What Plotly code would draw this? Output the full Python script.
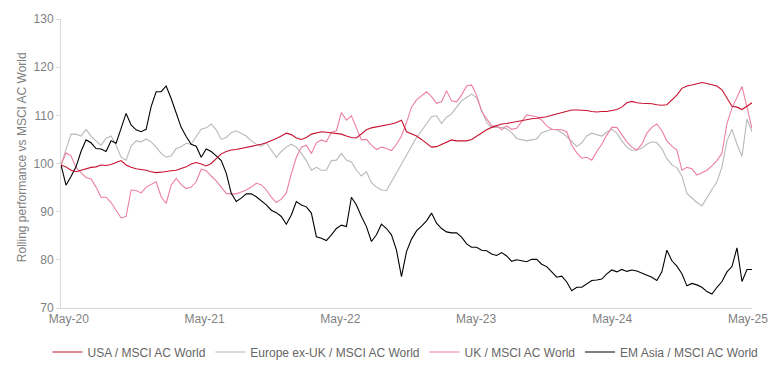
import pandas as pd
import plotly.graph_objects as go

# Sample dates (roughly fortnightly) spanning the chart
dates = pd.date_range("2020-05-08", "2025-06-09", periods=139)

usa = [99.7, 99.3, 98.6, 98.3, 98.6, 98.9, 99.2, 99.3, 99.7, 99.6,
       99.8, 100.2, 100.6, 99.7, 99.2, 98.9, 98.8, 98.6, 98.3, 98.1,
       98.2, 98.4, 98.5, 98.6, 98.9, 99.3, 99.9, 100.2, 99.9, 99.5,
       100.0, 101.1, 102.0, 102.5, 102.8, 102.9, 103.1, 103.3, 103.5, 103.8,
       104.0, 104.3, 104.7, 105.2, 105.7, 106.3, 106.0, 105.3, 105.0, 105.4,
       106.1, 106.4, 106.6, 106.5, 106.4, 106.3, 106.1, 105.7, 105.4, 105.3,
       106.1, 107.0, 107.4, 107.6, 107.8, 107.9, 108.2, 108.5, 109.0, 106.6,
       106.1, 105.7, 105.0, 104.2, 103.4, 103.5, 104.0, 104.5, 104.9, 104.7,
       104.7, 104.7, 105.0, 105.7, 106.4, 107.0, 107.5, 107.8, 108.2, 108.3,
       108.5, 108.7, 109.0, 109.2, 109.3, 109.4, 109.5, 109.7, 110.0, 110.3,
       110.6, 110.8, 111.1, 111.1, 111.1, 111.0, 110.8, 110.7, 110.8, 110.8,
       111.0, 111.2, 111.7, 112.6, 112.9, 112.6, 112.5, 112.5, 112.4, 112.2,
       112.1, 112.2, 113.1, 114.2, 115.6, 116.1, 116.3, 116.5, 116.8, 116.6,
       116.3, 116.1, 115.3, 113.5, 111.9, 111.7, 111.2, 111.9, 112.6]

europe = [99.7, 103.1, 106.1, 106.1, 105.7, 107.1, 105.7, 104.7, 103.8, 105.2,
          105.7, 103.8, 101.3, 100.7, 103.6, 104.7, 104.5, 105.1, 104.5, 103.4,
          102.1, 101.3, 101.6, 103.1, 103.5, 104.2, 104.0, 105.6, 107.1, 107.4,
          108.2, 107.0, 105.0, 105.4, 106.4, 106.8, 106.3, 105.7, 104.7, 104.0,
          103.6, 104.3, 102.8, 101.3, 102.5, 103.4, 104.0, 103.4, 102.1, 100.6,
          98.6, 99.2, 98.6, 98.6, 100.6, 100.7, 102.1, 100.7, 100.3, 98.6,
          97.4, 98.3, 96.0, 95.1, 94.5, 94.4, 96.2, 98.1, 99.9, 101.8,
          103.8, 105.4, 106.8, 108.2, 109.7, 109.9, 108.3, 109.6, 110.3, 111.7,
          113.0, 113.7, 114.4, 113.7, 111.2, 108.5, 107.5, 107.5, 107.5, 107.2,
          106.4, 105.2, 105.0, 104.7, 104.9, 105.1, 106.4, 106.7, 107.1, 107.0,
          106.4, 105.6, 104.5, 103.5, 104.3, 105.7, 106.3, 106.0, 105.7, 106.5,
          107.1, 106.3, 104.7, 103.4, 102.7, 102.8, 103.2, 104.0, 104.5, 104.3,
          103.1, 101.0, 99.7, 99.1, 97.4, 93.8, 92.8, 91.9, 91.2, 93.0,
          94.6, 96.2, 99.3, 104.7, 107.1, 104.0, 101.5, 109.2, 106.6]

uk = [99.7, 102.2, 101.6, 99.2, 98.1, 97.1, 96.8, 95.1, 93.0, 93.0,
      91.9, 90.3, 88.7, 89.0, 94.5, 94.4, 93.9, 95.1, 95.7, 96.2,
      93.1, 91.7, 95.5, 96.9, 95.6, 94.8, 95.1, 96.2, 98.8, 98.5,
      97.4, 96.4, 95.1, 93.8, 93.7, 93.7, 94.1, 94.5, 95.1, 95.9,
      95.6, 94.5, 93.0, 91.9, 92.6, 93.9, 97.9, 101.3, 103.4, 103.8,
      102.1, 104.3, 104.9, 104.5, 106.5, 106.8, 110.6, 109.0, 109.9, 107.3,
      104.9, 105.0, 103.8, 102.9, 103.4, 103.1, 102.7, 104.0, 105.7, 108.5,
      111.7, 113.2, 114.0, 114.9, 113.9, 112.5, 112.8, 115.1, 113.0, 112.8,
      114.2, 116.1, 116.3, 114.2, 110.8, 109.2, 107.8, 107.8, 107.0, 107.8,
      107.1, 107.3, 108.7, 110.1, 109.9, 109.7, 109.0, 107.8, 107.1, 107.1,
      107.0, 106.6, 103.8, 102.2, 101.1, 101.3, 100.7, 102.5, 104.0, 105.9,
      107.5, 107.5, 106.1, 104.5, 103.4, 102.8, 104.0, 106.3, 107.5, 108.2,
      106.8, 104.7, 103.6, 102.8, 98.6, 99.2, 98.9, 97.6, 98.1, 98.6,
      99.5, 100.6, 102.1, 108.3, 111.5, 113.9, 116.0, 111.7, 107.3]

em_asia = [99.7, 95.5, 97.3, 99.3, 102.5, 104.9, 104.3, 103.1, 103.0, 102.5,
           104.7, 104.2, 107.3, 110.4, 108.0, 107.0, 106.6, 107.1, 111.8, 114.9,
           114.9, 116.1, 113.5, 110.4, 107.5, 105.6, 104.0, 103.6, 101.3, 103.0,
           102.5, 101.6, 100.6, 98.0, 93.8, 92.1, 92.8, 93.7, 93.7, 93.1,
           92.3, 91.4, 90.3, 89.8, 89.0, 87.4, 89.3, 92.1, 91.4, 91.0,
           89.7, 84.8, 84.5, 84.0, 85.2, 86.5, 87.2, 86.9, 93.0, 91.4,
           89.0, 86.9, 83.8, 85.2, 87.4, 86.5, 85.2, 82.0, 76.5, 81.7,
           84.3, 86.0, 87.0, 88.1, 89.7, 87.6, 86.5, 85.8, 85.6, 85.6,
           84.7, 83.3, 82.6, 82.6, 82.0, 81.9, 81.2, 80.9, 81.5, 80.8,
           79.7, 80.0, 79.8, 79.6, 80.1, 80.1, 79.1, 78.6, 77.5, 76.4,
           76.6, 75.4, 73.6, 74.3, 74.3, 75.0, 75.7, 75.8, 76.0, 77.1,
           77.9, 77.5, 78.0, 77.6, 77.9, 77.7, 77.3, 76.8, 76.4, 75.7,
           77.5, 82.0, 79.8, 78.7, 77.1, 74.6, 75.1, 74.8, 74.3, 73.4,
           72.9, 74.3, 75.5, 77.5, 78.6, 82.5, 75.5, 78.0, 78.0]

series_names = ["USA / MSCI AC World", "Europe ex-UK / MSCI AC World",
                "UK / MSCI AC World", "EM Asia / MSCI AC World"]
colors = ["#c8102e", "#b8b8b8", "#ec7fa0", "#000000"]

tick_dates = ["2020-05-29", "2021-05-29", "2022-05-29", "2023-05-29",
              "2024-05-29", "2025-05-29"]
tick_text = ["May-20", "May-21", "May-22", "May-23", "May-24", "May-25"]
y_ticks = [70, 80, 90, 100, 110, 120, 130]

fig = go.Figure()
order = [1, 2, 3, 0]  # drawing order: gray, pink, black, red on top
data = [usa, europe, uk, em_asia]
for i in order:
    fig.add_trace(go.Scatter(
        x=dates, y=data[i], mode="lines", name=series_names[i],
        line=dict(color=colors[i], width=1.1),
        legendrank=i + 1,
    ))

# the page adds an 8px body margin, so the figure is 8px smaller and offset
fig.update_layout(
    width=776, height=360,
    margin=dict(l=53, r=32, t=11, b=60, autoexpand=False),
    paper_bgcolor="white", plot_bgcolor="white",
    font=dict(family="Liberation Sans, Arial, sans-serif", size=12, color="#7f7f7f"),
    showlegend=True,
    legend=dict(orientation="h", x=-0.0195, xanchor="left", y=-0.152, yanchor="middle",
                font=dict(size=12, color="#666666"), traceorder="normal",
                itemwidth=30, bgcolor="rgba(0,0,0,0)"),
    xaxis=dict(type="date", range=["2020-05-08", "2025-06-09"],
               tickvals=tick_dates, ticktext=tick_text, showgrid=False,
               showline=True, linecolor="#d9d9d9", linewidth=1, automargin=False,
               ticks="", zeroline=False, tickfont=dict(size=12, color="#7f7f7f")),
    yaxis=dict(range=[70, 130], tickvals=y_ticks, showgrid=False, automargin=False,
               showline=True, linecolor="#d9d9d9", linewidth=1,
               ticks="outside", ticklen=4, tickcolor="#d9d9d9",
               zeroline=False, tickfont=dict(size=12, color="#7f7f7f")),
    annotations=[dict(text="Rolling performance vs MSCI AC World", textangle=-90,
                      xref="paper", yref="paper", x=-0.0564, y=0.522,
                      xanchor="center", yanchor="middle", showarrow=False,
                      font=dict(size=12, color="#7f7f7f"))],
)

fig.write_html("out.html")
